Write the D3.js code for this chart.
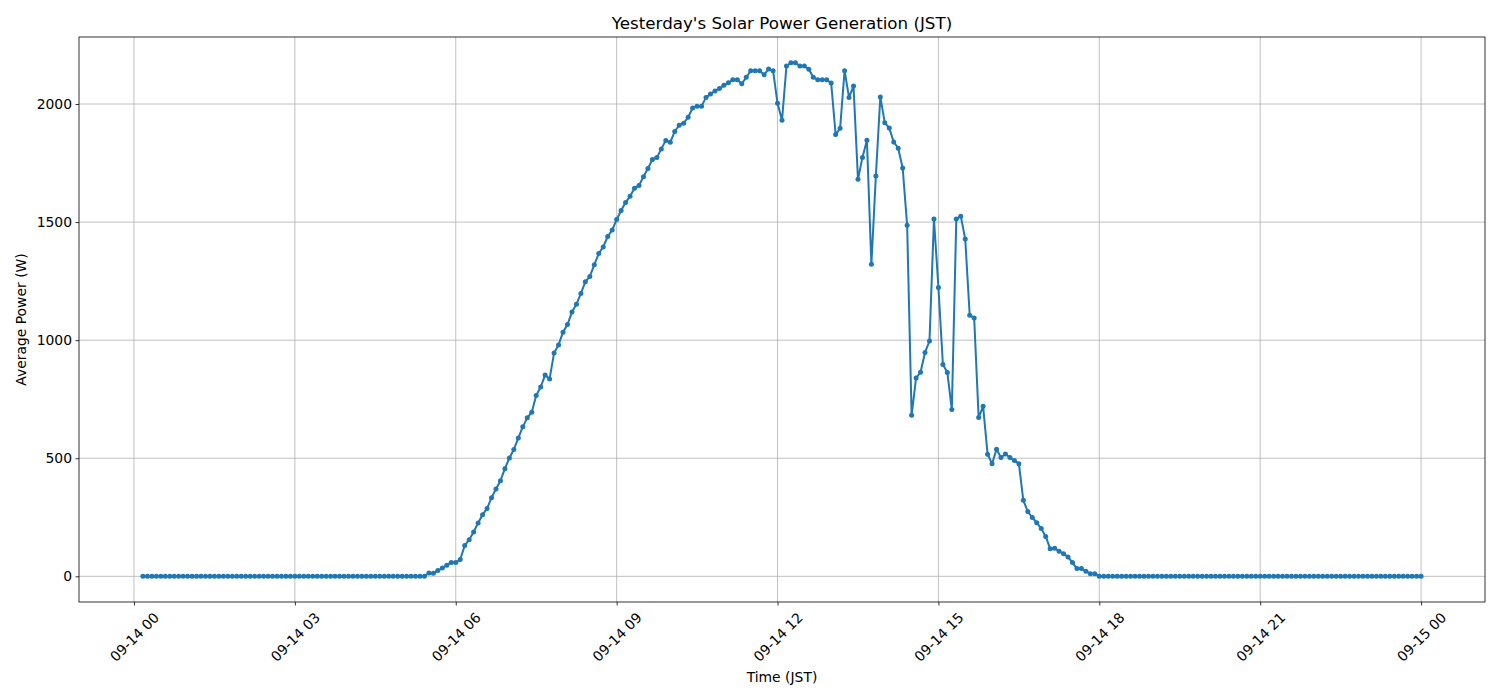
<!DOCTYPE html>
<html>
<head>
<meta charset="utf-8">
<script src="https://cdn.jsdelivr.net/npm/d3@7"></script>
<style>
    body { margin: 0; background: #ffffff; }
    text { font-family: "DejaVu Sans", sans-serif; fill: #000; }
</style>
</head>
<body>
<div id="chart"></div>
<script>
// Readings every 5 minutes, starting 09-14 00:10 and ending 09-15 00:00 (JST)
const startTime = "2024-09-14T00:10:00";
const stepMinutes = 5;

// Average power (W) for each 5 minute slot
const powerW = [
    0, 0, 0, 0, 0, 0, 0, 0, 0, 0, 0, 0, 0, 0, 0, 0,
    0, 0, 0, 0, 0, 0, 0, 0, 0, 0, 0, 0, 0, 0, 0, 0,
    0, 0, 0, 0, 0, 0, 0, 0, 0, 0, 0, 0, 0, 0, 0, 0,
    0, 0, 0, 0, 0, 0, 0, 0, 0, 0, 0, 0, 0, 0, 0, 0,
    14, 13, 25, 35, 47, 59, 58, 71, 130, 155,
    188, 226, 261, 287, 333, 370, 405, 456, 501, 537,
    586, 633, 671, 695, 766, 802, 852, 836, 946, 980,
    1034, 1066, 1119, 1152, 1198, 1247, 1270, 1319, 1367, 1395,
    1439, 1466, 1511, 1549, 1583, 1609, 1643, 1655, 1692, 1727,
    1765, 1774, 1810, 1846, 1838, 1884, 1910, 1919, 1944, 1983,
    1991, 1991, 2028, 2042, 2055, 2066, 2079, 2090, 2103, 2103,
    2086, 2113, 2141, 2141, 2141, 2124, 2148, 2141, 2003, 1931,
    2161, 2175, 2175, 2161, 2161, 2147, 2113, 2103, 2103, 2103,
    2089, 1871, 1897, 2141, 2028, 2076, 1681, 1774, 1847, 1321,
    1695, 2030, 1921, 1898, 1839, 1813, 1729, 1487, 682, 840,
    864, 948, 996, 1513, 1223, 897, 863, 706, 1513, 1525,
    1428, 1106, 1094, 672, 720, 517, 477, 538, 503, 518,
    503, 490, 477, 322, 274, 249, 227, 202, 169, 117,
    119, 106, 96, 82, 58, 33, 33, 21, 11, 11,
    0,
    0, 0, 0, 0, 0, 0, 0, 0, 0, 0, 0, 0, 0, 0, 0, 0,
    0, 0, 0, 0, 0, 0, 0, 0, 0, 0, 0, 0, 0, 0, 0, 0,
    0, 0, 0, 0, 0, 0, 0, 0, 0, 0, 0, 0, 0, 0, 0, 0,
    0, 0, 0, 0, 0, 0, 0, 0, 0, 0, 0, 0, 0, 0, 0, 0,
    0, 0, 0, 0, 0, 0, 0, 0
];

const yTicks = [0, 500, 1000, 1500, 2000];
const titleText = "Yesterday's Solar Power Generation (JST)";
const xLabelText = "Time (JST)";
const yLabelText = "Average Power (W)";

// Figure and axes box (matplotlib-like layout)
const width = 1500;
const height = 700;
const margin = { top: 37, right: 15, bottom: 98, left: 79 };
const plotW = width - margin.left - margin.right;
const plotH = height - margin.top - margin.bottom;

const parseTime = d3.timeParse("%Y-%m-%dT%H:%M:%S");
const t0 = parseTime(startTime);
const data = powerW.map((v, i) => ({ time: d3.timeMinute.offset(t0, i * stepMinutes), value: v }));

const svg = d3.select("#chart").append("svg")
    .attr("width", width)
    .attr("height", height);

// 5% padding on both axes like matplotlib autoscale
const tExtent = d3.extent(data, d => d.time);
const tPad = (tExtent[1] - tExtent[0]) * 0.05;
const xScale = d3.scaleTime()
    .domain([new Date(+tExtent[0] - tPad), new Date(+tExtent[1] + tPad)])
    .range([0, plotW]);

const vExtent = d3.extent(data, d => d.value);
const vPad = (vExtent[1] - vExtent[0]) * 0.05;
const yScale = d3.scaleLinear()
    .domain([vExtent[0] - vPad, vExtent[1] + vPad])
    .range([plotH, 0]);

const g = svg.append("g")
    .attr("transform", `translate(${margin.left},${margin.top})`);

const xTicks = d3.timeHour.every(3).range(xScale.domain()[0], xScale.domain()[1]);

// Grid lines
g.append("g").selectAll("line")
    .data(xTicks)
    .enter().append("line")
    .attr("x1", d => xScale(d)).attr("x2", d => xScale(d))
    .attr("y1", 0).attr("y2", plotH)
    .attr("stroke", "#b0b0b0").attr("stroke-width", 0.8);

g.append("g").selectAll("line")
    .data(yTicks)
    .enter().append("line")
    .attr("x1", 0).attr("x2", plotW)
    .attr("y1", d => yScale(d)).attr("y2", d => yScale(d))
    .attr("stroke", "#b0b0b0").attr("stroke-width", 0.8);

// Series line and markers
const line = d3.line()
    .x(d => xScale(d.time))
    .y(d => yScale(d.value));

g.append("path")
    .datum(data)
    .attr("d", line)
    .attr("fill", "none")
    .attr("stroke", "#1f77b4")
    .attr("stroke-width", 2)
    .attr("stroke-linejoin", "round");

g.append("g").selectAll("circle")
    .data(data)
    .enter().append("circle")
    .attr("cx", d => xScale(d.time))
    .attr("cy", d => yScale(d.value))
    .attr("r", 2.5)
    .attr("fill", "#1f77b4");

// Axes
const fmt = d3.timeFormat("%m-%d %H");
const xAxis = g.append("g")
    .attr("transform", `translate(0,${plotH})`)
    .call(d3.axisBottom(xScale).tickValues(xTicks).tickFormat(fmt).tickSizeOuter(0).tickSize(3.5).tickPadding(3.5));

xAxis.selectAll("text")
    .style("font-size", "13.9px")
    .style("text-anchor", "middle")
    .attr("y", 0)
    .attr("dy", 0)
    .attr("transform", "translate(0,35) rotate(-45)")
    .attr("dominant-baseline", "central");

const yAxis = g.append("g")
    .call(d3.axisLeft(yScale).tickValues(yTicks).tickFormat(d3.format("d")).tickSizeOuter(0).tickSize(3.5).tickPadding(3.5));
yAxis.selectAll("text").style("font-size", "13.9px");

svg.selectAll(".domain").remove();
svg.selectAll(".tick line").attr("stroke", "#000").attr("stroke-width", 0.8);

// Frame
g.append("rect")
    .attr("x", 0).attr("y", 0)
    .attr("width", plotW).attr("height", plotH)
    .attr("fill", "none")
    .attr("stroke", "#000")
    .attr("stroke-width", 0.8);

// Titles
svg.append("text")
    .attr("x", margin.left + plotW / 2)
    .attr("y", 29)
    .attr("text-anchor", "middle")
    .style("font-size", "16.7px")
    .text(titleText);

svg.append("text")
    .attr("x", margin.left + plotW / 2)
    .attr("y", 682)
    .attr("text-anchor", "middle")
    .style("font-size", "13.9px")
    .text(xLabelText);

svg.append("text")
    .attr("transform", `translate(26,${margin.top + plotH / 2}) rotate(-90)`)
    .attr("text-anchor", "middle")
    .style("font-size", "13.9px")
    .text(yLabelText);
</script>
</body>
</html>
